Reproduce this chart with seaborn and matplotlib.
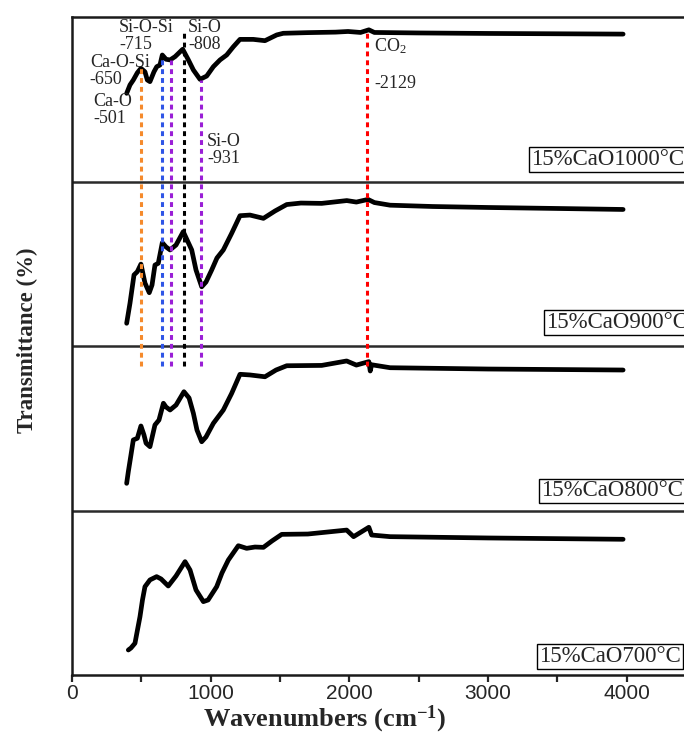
import numpy as np
import pandas as pd
import matplotlib
matplotlib.use("Agg")
import matplotlib.pyplot as plt
import seaborn as sns

# ---------------- data ----------------
wn_1000 = [394, 418, 442, 471, 497, 526, 543, 562, 591, 611, 634, 651, 678, 707, 743, 798, 839, 875,
           923, 971, 1019, 1067, 1115, 1163, 1211, 1307, 1391, 1476, 1523, 1700, 1900, 1990, 2080,
           2140, 2180, 2500, 3000, 3500, 3973]
t_1000 = [53.6, 58.7, 61.7, 66.1, 68.8, 66.7, 61.7, 60.7, 66.7, 69.8, 70.8, 76.9, 74.3, 73.9, 75.9,
          80.4, 73.9, 67.8, 62.1, 64.1, 69.8, 73.9, 76.9, 81.9, 86.4, 86.4, 85.6, 89.1, 90.1, 90.5,
          90.8, 91.2, 90.6, 92.2, 90.6, 90.3, 90.0, 89.8, 89.6]

wn_900 = [394, 418, 447, 471, 497, 526, 557, 577, 598, 622, 651, 678, 707, 750, 802, 863, 894, 935,
          966, 1007, 1045, 1091, 1151, 1211, 1283, 1380, 1464, 1548, 1650, 1800, 1981, 2050, 2134,
          2180, 2293, 2600, 3000, 3500, 3973]
t_900 = [13.8, 26.0, 43.2, 45.2, 49.8, 38.3, 32.4, 37.1, 49.2, 50.3, 62.8, 60.2, 58.4, 61.4, 69.5,
         58.4, 46.2, 36.0, 38.9, 46.2, 53.5, 58.4, 68.5, 79.2, 79.6, 77.6, 82.1, 86.0, 86.9, 86.7,
         88.4, 87.5, 89.1, 87.2, 85.6, 84.8, 84.2, 83.6, 83.0]

wn_800 = [394, 406, 425, 442, 471, 497, 519, 534, 562, 598, 627, 659, 678, 707, 750, 807, 844, 875,
          901, 935, 966, 1019, 1091, 1151, 1211, 1283, 1391, 1471, 1548, 1800, 1980, 2050, 2140,
          2150, 2160, 2293, 3000, 3973]
t_800 = [16.5, 23.6, 33.7, 42.9, 43.9, 51.4, 45.9, 40.9, 38.8, 52.0, 55.0, 65.2, 62.9, 61.1, 64.1,
         72.2, 68.4, 59.1, 48.9, 41.8, 44.7, 53.0, 61.1, 71.2, 82.8, 82.4, 81.3, 85.4, 88.0, 88.2,
         90.9, 88.4, 90.5, 84.8, 88.6, 86.8, 86.0, 85.4]

wn_700 = [406, 425, 454, 472, 490, 508, 526, 562, 610, 642, 694, 750, 815, 851, 894, 947, 981, 1043,
          1081, 1127, 1199, 1259, 1319, 1380, 1442, 1512, 1700, 1980, 2030, 2140, 2160, 2293, 3000,
          3973]
t_700 = [15.2, 16.4, 19.3, 27.4, 35.4, 45.6, 53.7, 57.8, 59.8, 58.4, 54.1, 60.2, 68.9, 63.8, 51.7,
         44.6, 45.6, 53.7, 62.0, 69.9, 78.6, 77.0, 77.8, 77.6, 81.5, 85.5, 85.7, 88.1, 84.1, 89.8,
         85.1, 84.1, 83.3, 82.5]

samples = ["15%CaO1000°C", "15%CaO900°C", "15%CaO800°C", "15%CaO700°C"]

peak_names = ["Ca-O", "Ca-O-Si", "Si-O-Si", "Si-O", "Si-O", "CO$_2$"]
peak_pos = [501, 650, 715, 808, 931, 2129]
peak_colors = ["#f58a2c", "#2f55e6", "#9a1fd6", "#000000", "#9a1fd6", "#ff0000"]
peak_top = [369, 375, 374, 390, 362, 390]
peak_bottom = [188, 188, 188, 188, 188, 188]

# ---------------- style ----------------
sns.set_style("ticks")
plt.rcParams["font.family"] = ["Liberation Serif", "DejaVu Serif"]
plt.rcParams["mathtext.fontset"] = "custom"
plt.rcParams["mathtext.rm"] = "Liberation Serif"
plt.rcParams["mathtext.it"] = "Liberation Serif:italic"
plt.rcParams["mathtext.bf"] = "Liberation Serif:bold"

fig = plt.figure(figsize=(6.84, 7.34), dpi=100)
ax = fig.add_axes([72 / 684, 59 / 734, 1 - 72 / 684, 658 / 734])

offsets = [300, 200, 100, 0]
spectra = [(wn_1000, t_1000), (wn_900, t_900), (wn_800, t_800), (wn_700, t_700)]
for (wn, tt), off, name in zip(spectra, offsets, samples):
    df = pd.DataFrame({"wavenumber": wn, "T": np.array(tt) + off})
    sns.lineplot(data=df, x="wavenumber", y="T", ax=ax, color="black", lw=3.4,
                 sort=False, estimator=None, solid_capstyle="round", solid_joinstyle="round")

# panel dividers
for yy in [100, 200, 300]:
    ax.axhline(yy, color="#2a2a2a", lw=1.8, zorder=1)

# dashed peak markers
for x, c, y0, y1 in zip(peak_pos, peak_colors, peak_bottom, peak_top):
    ax.vlines(x, y0, y1, colors=c, lw=2.2, linestyles=(0, (1.6, 1.3)), zorder=3)

# annotations
ann_fs = 13
ax.text(339, 398.5, "Si-O-Si\n-715", fontsize=ann_fs, va="top", ha="left", linespacing=1.0)
ax.text(836, 398.5, "Si-O\n-808", fontsize=ann_fs, va="top", ha="left", linespacing=1.0)
ax.text(128, 377.5, "Ca-O-Si\n-650", fontsize=ann_fs, va="top", ha="left", linespacing=1.0)
ax.text(151, 354.0, "Ca-O\n-501", fontsize=ann_fs, va="top", ha="left", linespacing=1.0)
ax.text(973, 329.5, "Si-O\n-931", fontsize=ann_fs, va="top", ha="left", linespacing=1.0)
ax.text(2177, 388.0, "CO$_2$", fontsize=ann_fs, va="top", ha="left")
ax.text(2177, 364.5, "-2129", fontsize=ann_fs, va="top", ha="left")

# sample labels
lab_x = [3309, 3414, 3381, 3367]
lab_y = [313.4, 214.3, 111.9, 11.2]
for name, x, y in zip(samples, lab_x, lab_y):
    ax.text(x, y, name, fontsize=16.5, va="center", ha="left", clip_on=False,
            bbox=dict(boxstyle="square,pad=0.08", fc="white", ec="black", lw=1))

ax.set_xlim(0, 4412)
ax.set_ylim(0, 400)
ax.set_yticks([])
ax.set_xticks([0, 1000, 2000, 3000, 4000])
ax.set_xticks([500, 1500, 2500, 3500], minor=True)
ax.tick_params(axis="x", which="major", direction="out", length=5, width=1.6, labelsize=15, pad=1.5)
ax.tick_params(axis="x", which="minor", direction="out", length=5, width=1.6)
for lab in ax.get_xticklabels():
    lab.set_family(["Liberation Sans", "DejaVu Sans"])
ax.set_xlabel("")
ax.set_ylabel("")
for s in ["left", "bottom", "top"]:
    ax.spines[s].set_linewidth(1.8)
    ax.spines[s].set_color("#1a1a1a")
ax.spines["right"].set_visible(False)

fig.text(325 / 684, 1 - 719 / 734, r"Wavenumbers (cm$^{\mathbf{-1}}$)", fontsize=19,
         fontweight="bold", ha="center", va="center")
fig.text(27 / 684, 1 - 340 / 734, "Transmittance (%)", fontsize=16.5, fontweight="bold",
         rotation=90, ha="center", va="center")

fig.savefig("out.png", dpi=100)
